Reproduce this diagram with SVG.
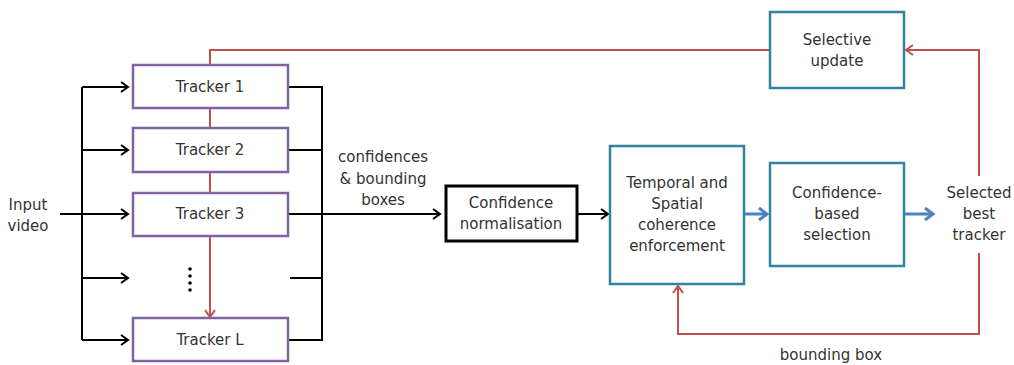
<svg xmlns="http://www.w3.org/2000/svg" width="1014" height="365" viewBox="0 0 1014 365">
<style>
text{font-family:"DejaVu Sans","Liberation Sans",sans-serif;font-size:15px;fill:#333;text-anchor:middle}
.trk{fill:#fff;stroke:#8064A2;stroke-width:2.5}
.teal{fill:#fff;stroke:#31849B;stroke-width:2.5}
.blk{fill:#fff;stroke:#000;stroke-width:3}
.k{fill:none;stroke:#000;stroke-width:2}
.r{fill:none;stroke:#C0504D;stroke-width:2}
.b{fill:none;stroke:#4F81BD;stroke-width:3}
</style>
<defs>
<marker id="ak" markerWidth="12" markerHeight="12" refX="10" refY="6" orient="auto" markerUnits="userSpaceOnUse">
<path d="M3,1 L10,6 L3,11" fill="none" stroke="#000" stroke-width="2"/>
</marker>
<marker id="ar" markerWidth="12" markerHeight="12" refX="10" refY="6" orient="auto" markerUnits="userSpaceOnUse">
<path d="M3,1 L10,6 L3,11" fill="none" stroke="#C0504D" stroke-width="2"/>
</marker>
<marker id="ab" markerWidth="14" markerHeight="14" refX="11" refY="7" orient="auto" markerUnits="userSpaceOnUse">
<path d="M3,1 L11,7 L3,13" fill="none" stroke="#4F81BD" stroke-width="3"/>
</marker>
</defs>
<g id="connectors">
<path class="r" d="M210,65 V50 H770"/>
<path class="r" d="M210,109 V128"/>
<path class="r" d="M210,172 V193"/>
<path class="r" d="M210,236 V317" marker-end="url(#ar)"/>
<path class="k" d="M60,214 H82"/>
<path class="k" d="M82,87 V340"/>
<path class="k" d="M82,87 H128" marker-end="url(#ak)"/>
<path class="k" d="M82,150 H128" marker-end="url(#ak)"/>
<path class="k" d="M82,214 H128" marker-end="url(#ak)"/>
<path class="k" d="M82,278 H128" marker-end="url(#ak)"/>
<path class="k" d="M82,340 H128" marker-end="url(#ak)"/>
<path class="k" d="M289,87 H322 V340 H289"/>
<path class="k" d="M289,150 H322"/>
<path class="k" d="M290,278 H322"/>
<path class="k" d="M289,214 H440" marker-end="url(#ak)"/>
<path class="k" d="M577,214 H608" marker-end="url(#ak)"/>
<path class="b" d="M745,214 H767" marker-end="url(#ab)"/>
<path class="b" d="M905,214 H933" marker-end="url(#ab)"/>
<path class="r" d="M979,176 V50 H906" marker-end="url(#ar)"/>
<path class="r" d="M979,253 V334 H678 V286" marker-end="url(#ar)"/>
<circle cx="190" cy="269" r="1.8" fill="#000"/>
<circle cx="190" cy="276" r="1.8" fill="#000"/>
<circle cx="190" cy="283" r="1.8" fill="#000"/>
<circle cx="190" cy="290" r="1.8" fill="#000"/>
</g>
<g id="input"><text x="28" y="210">Input</text><text x="28" y="231">video</text></g>
<g id="tracker1"><rect class="trk" x="133" y="65" width="155" height="43"/><text x="210" y="92">Tracker 1</text></g>
<g id="tracker2"><rect class="trk" x="133" y="128" width="155" height="44"/><text x="210" y="155">Tracker 2</text></g>
<g id="tracker3"><rect class="trk" x="133" y="193" width="155" height="43"/><text x="210" y="219">Tracker 3</text></g>
<g id="trackerL"><rect class="trk" x="133" y="318" width="155" height="43"/><text x="210" y="345">Tracker L</text></g>
<g id="label-conf"><text x="383" y="162">confidences</text><text x="383" y="184">&amp; bounding</text><text x="383" y="205">boxes</text></g>
<g id="normalisation"><rect class="blk" x="446" y="186" width="131" height="55"/><text x="511" y="208">Confidence</text><text x="511" y="229">normalisation</text></g>
<g id="coherence"><rect class="teal" x="610" y="146" width="134" height="138"/><text x="677" y="188">Temporal and</text><text x="677" y="209">Spatial</text><text x="677" y="230">coherence</text><text x="677" y="251">enforcement</text></g>
<g id="selection"><rect class="teal" x="770" y="163" width="134" height="103"/><text x="837" y="198">Confidence-</text><text x="837" y="219">based</text><text x="837" y="240">selection</text></g>
<g id="selected"><text x="979" y="198">Selected</text><text x="979" y="219">best</text><text x="979" y="240">tracker</text></g>
<g id="update"><rect class="teal" x="770" y="12" width="134" height="76"/><text x="837" y="45">Selective</text><text x="837" y="66">update</text></g>
<g id="label-bb"><text x="831" y="360">bounding box</text></g>
</svg>
